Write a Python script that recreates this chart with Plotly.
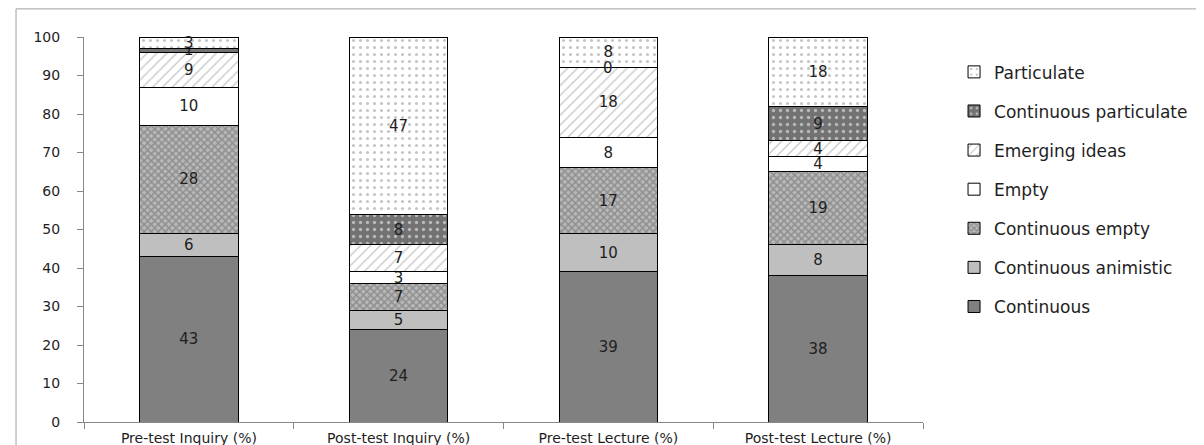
import plotly.graph_objects as go

categories = ["Pre-test Inquiry (%)", "Post-test Inquiry (%)", "Pre-test Lecture (%)", "Post-test Lecture (%)"]

# Printed labels (percent, as shown on the bars)
continuous_lbl = [43, 24, 39, 38]
continuous_animistic_lbl = [6, 5, 10, 8]
continuous_empty_lbl = [28, 7, 17, 19]
empty_lbl = [10, 3, 8, 4]
emerging_ideas_lbl = [9, 7, 18, 4]
continuous_particulate_lbl = [1, 8, 0, 9]
particulate_lbl = [3, 47, 8, 18]

# Segment heights (stacks reach 100)
continuous = [43, 24, 39, 38]
continuous_animistic = [6, 5, 10, 8]
continuous_empty = [28, 7, 17, 19]
empty = [10, 3, 8, 4]
emerging_ideas = [9, 7, 18, 4]
continuous_particulate = [1, 8, 0, 9]
particulate = [3, 46, 8, 18]

series = [
    ("Continuous", continuous, continuous_lbl),
    ("Continuous animistic", continuous_animistic, continuous_animistic_lbl),
    ("Continuous empty", continuous_empty, continuous_empty_lbl),
    ("Empty", empty, empty_lbl),
    ("Emerging ideas", emerging_ideas, emerging_ideas_lbl),
    ("Continuous particulate", continuous_particulate, continuous_particulate_lbl),
    ("Particulate", particulate, particulate_lbl),
]

styles = {
    "Continuous": dict(color="#808080", pattern=dict(shape="")),
    "Continuous animistic": dict(color="#bfbfbf", pattern=dict(shape="")),
    "Continuous empty": dict(color="#b0b0b0", pattern=dict(shape="x", fgcolor="#666666", bgcolor="#b8b8b8", size=5, solidity=0.5)),
    "Empty": dict(color="#ffffff", pattern=dict(shape="")),
    "Emerging ideas": dict(color="#ffffff", pattern=dict(shape="/", fgcolor="#8c8c8c", bgcolor="#ffffff", size=7, solidity=0.18)),
    "Continuous particulate": dict(color="#727272", pattern=dict(shape=".", fgcolor="#ffffff", bgcolor="#727272", size=7, solidity=0.18)),
    "Particulate": dict(color="#ffffff", pattern=dict(shape=".", fgcolor="#8a8a8a", bgcolor="#ffffff", size=7, solidity=0.15)),
}

FONT = "DejaVu Sans"
TXT = "#1e1e1e"

fig = go.Figure()
n = len(series)
for i, (name, vals, lbls) in enumerate(series):
    st = styles[name]
    fig.add_trace(go.Bar(
        x=categories, y=vals, name=name,
        text=[str(v) for v in lbls],
        textposition="inside", insidetextanchor="middle",
        textangle=0, constraintext="none",
        textfont=dict(family=FONT, size=15, color=TXT),
        marker=dict(color=st["color"], pattern=st["pattern"], line=dict(color="#000000", width=1)),
        legendgroup=name, legendrank=(n - i) * 10,
        cliponaxis=False,
    ))

# "0" label for zero-height segment
bases = [a + b + c + d + e for a, b, c, d, e in zip(continuous, continuous_animistic, continuous_empty, empty, emerging_ideas)]
for c, v, lbl, base in zip(categories, continuous_particulate, continuous_particulate_lbl, bases):
    if v == 0:
        fig.add_annotation(x=c, y=base, text=str(lbl), showarrow=False,
                           font=dict(family=FONT, size=15, color=TXT))

fig.update_layout(
    width=1204, height=445,
    barmode="stack", bargap=0.53,
    plot_bgcolor="white", paper_bgcolor="white",
    margin=dict(l=76, r=289, t=29, b=31, autoexpand=False),
    font=dict(family=FONT, size=14, color=TXT),
    legend=dict(
        x=1.037, y=0.955, xanchor="left", yanchor="top",
        traceorder="grouped", tracegroupgap=14,
        font=dict(family=FONT, size=17, color=TXT),
        itemwidth=30,
    ),
    showlegend=True,
)
fig.update_yaxes(range=[0, 100], dtick=10, showline=True, linecolor="#888888", linewidth=1,
                 ticks="outside", ticklen=6, tickcolor="#888888", showgrid=False, zeroline=False,
                 automargin=False, ticklabelstandoff=14,
                 tickfont=dict(family=FONT, size=14, color=TXT))
fig.update_xaxes(showline=True, linecolor="#888888", linewidth=1, ticks="outside", ticklen=6,
                 tickcolor="#888888", tickson="boundaries", showgrid=False,
                 automargin=False, ticklabelstandoff=3,
                 tickfont=dict(family=FONT, size=14, color=TXT))

fig.add_shape(type="rect", xref="paper", yref="paper",
              x0=-0.081, x1=1.336, y0=-0.078, y1=1.073,
              line=dict(color="#a0a0a0", width=1), fillcolor="rgba(0,0,0,0)", layer="below")

fig.write_html("out.html")
